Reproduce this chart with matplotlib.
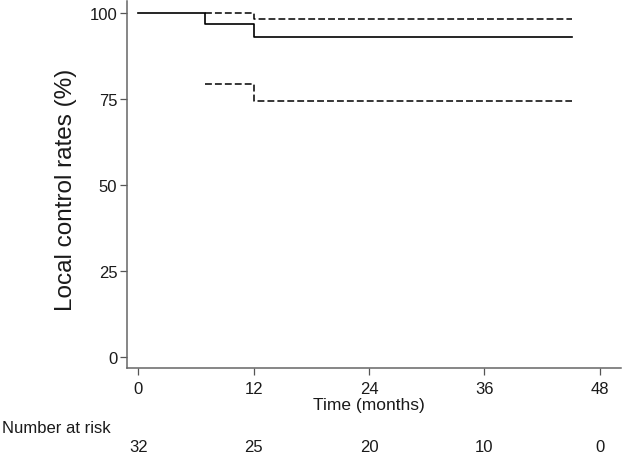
import matplotlib
matplotlib.use("Agg")
import matplotlib.pyplot as plt

plt.rcParams['font.family'] = ['Liberation Sans', 'DejaVu Sans']

# Kaplan-Meier estimate (step, post)
km_time = [0, 6.9, 12, 45.1]
km_surv = [100, 96.9, 93.0, 93.0]
# Confidence interval
ci_time = [6.9, 12, 45.1]
ci_upper = [100, 98.3, 98.3]
ci_lower = [79.4, 74.5, 74.5]

xticks = [0, 12, 24, 36, 48]
yticks = [0, 25, 50, 75, 100]
at_risk = [32, 25, 20, 10, 0]

W, H = 633, 456
fig = plt.figure(figsize=(W / 100, H / 100), dpi=100)
ax = fig.add_axes([127 / W, 1 - 369 / H, (621 - 127) / W, (369 - 2) / H])

dash = (0, (4.5, 2))
ax.step(km_time, km_surv, where='post', color='black', lw=1.2)
ax.step(ci_time, ci_upper, where='post', color='black', lw=1.1, ls=dash)
ax.step(ci_time, ci_lower, where='post', color='black', lw=1.1, ls=dash)

ax.set_xlim(-1.17, 50.2)
ax.set_ylim(-3.2, 103.5)
ax.set_xticks(xticks)
ax.set_yticks(yticks)
ax.tick_params(axis='both', labelsize=12, color='#555555', labelcolor='#1a1a1a',
               length=5, width=0.9)
ax.tick_params(axis='x', pad=4.5)
ax.tick_params(axis='y', pad=2)
for s in ['top', 'right']:
    ax.spines[s].set_visible(False)
for s in ['left', 'bottom']:
    ax.spines[s].set_color('#666666')
    ax.spines[s].set_linewidth(1.1)

ax.set_ylabel('Local control rates (%)', fontsize=17.5, color='#1a1a1a')
ax.yaxis.set_label_coords((77 - 127) / 494, (369 - 190) / 367)

x_mid = ax.transData.transform((24, 0))[0] / W
fig.text(x_mid, 1 - 406 / H, 'Time (months)', fontsize=12.5, ha='center', va='center',
         color='#1a1a1a')

fig.text(2 / W, 1 - 429 / H, 'Number at risk', fontsize=12, ha='left', va='center',
         color='#1a1a1a')
for t, n in zip(xticks, at_risk):
    xf = ax.transData.transform((t, 0))[0] / W
    fig.text(xf, 1 - 448 / H, str(n), fontsize=12, ha='center', va='center',
             color='#1a1a1a')

fig.savefig('out.png', dpi=100)
